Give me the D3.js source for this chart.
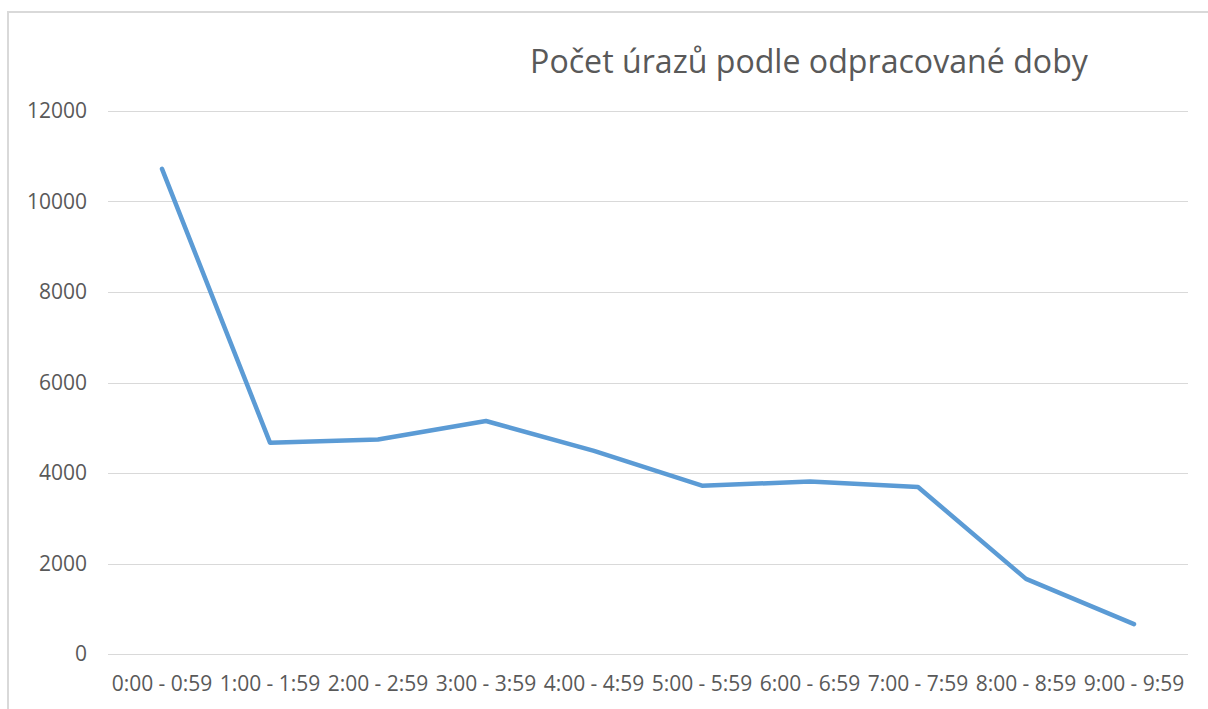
<!DOCTYPE html>
<html>
<head>
<meta charset="utf-8">
<script src="https://cdn.jsdelivr.net/npm/d3@7"></script>
<style>
  html, body { margin: 0; padding: 0; background: #fff; }
  svg { display: block; }
  text { font-family: "Open Sans", Lato, sans-serif; fill: #595959; }
</style>
</head>
<body>
<svg id="chart" width="1208" height="709"></svg>
<script>
const title = "Počet úrazů podle odpracované doby";
const categories = ["0:00 - 0:59", "1:00 - 1:59", "2:00 - 2:59", "3:00 - 3:59", "4:00 - 4:59",
                    "5:00 - 5:59", "6:00 - 6:59", "7:00 - 7:59", "8:00 - 8:59", "9:00 - 9:59"];
const values = [10720, 4670, 4740, 5150, 4490, 3720, 3810, 3690, 1660, 660];
const yTicks = [0, 2000, 4000, 6000, 8000, 10000, 12000];

const svg = d3.select("#chart");
const W = 1208, H = 709;
const plotLeft = 108, plotRight = 1188;

// chart frame (border)
svg.append("path")
  .attr("d", `M8,${H} L8,12 L${W},12`)
  .attr("fill", "none")
  .attr("stroke", "#d9d9d9")
  .attr("stroke-width", 2);

const x = d3.scaleBand().domain(categories).range([plotLeft, plotRight]).padding(0);
const y = d3.scaleLinear().domain([0, 12000]).range([654, 111]);

// gridlines
svg.append("g")
  .selectAll("line")
  .data(yTicks)
  .join("line")
  .attr("x1", plotLeft)
  .attr("x2", plotRight)
  .attr("y1", d => Math.round(y(d)) + 0.5)
  .attr("y2", d => Math.round(y(d)) + 0.5)
  .attr("stroke", "#d9d9d9")
  .attr("stroke-width", 1);

// y axis
const yAxis = svg.append("g")
  .attr("transform", `translate(${plotLeft},0)`)
  .call(d3.axisLeft(y).tickValues(yTicks).tickSize(0).tickPadding(21).tickFormat(d3.format("d")));
yAxis.select(".domain").remove();
yAxis.selectAll("text").style("font-size", "21px").attr("fill", "#595959");

// x axis
const xAxis = svg.append("g")
  .attr("transform", `translate(0,654)`)
  .call(d3.axisBottom(x).tickSize(0).tickPadding(22));
xAxis.select(".domain").remove();
xAxis.selectAll("text").style("font-size", "21px").attr("fill", "#595959");

// line
const line = d3.line()
  .x((d, i) => x(categories[i]) + x.bandwidth() / 2)
  .y(d => y(d));

svg.append("path")
  .datum(values)
  .attr("d", line)
  .attr("fill", "none")
  .attr("stroke", "#5b9bd5")
  .attr("stroke-width", 4.5)
  .attr("stroke-linejoin", "round")
  .attr("stroke-linecap", "round");

// title
const t = svg.append("text")
  .attr("x", 809)
  .attr("y", 73)
  .attr("text-anchor", "middle")
  .style("font-size", "28px")
  .text(title);
const w = t.node().getComputedTextLength();
t.style("font-size", (28 * 558 / w).toFixed(2) + "px");
</script>
</body>
</html>
